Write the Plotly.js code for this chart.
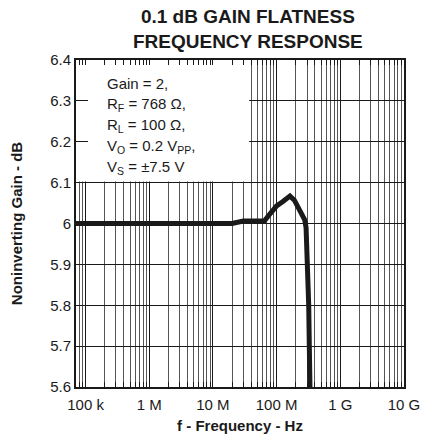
<!DOCTYPE html>
<html><head><meta charset="utf-8">
<script src="https://cdn.plot.ly/plotly-3.0.1.min.js"></script>
<style>html,body{margin:0;padding:0;background:#fff}#chart{width:425px;height:442px}</style>
</head><body><div id="chart"></div>
<script>
// Frequency (Hz) and noninverting gain (dB)
const freqHz = [7.0e4, 1.0e6, 2.0e7, 3.0e7, 6.5e7, 8.0e7, 1.0e8, 1.24e8, 1.62e8, 1.9e8, 2.22e8, 2.61e8, 2.76e8, 2.9e8, 3.06e8, 3.19e8, 3.26e8, 3.34e8];
const gainDb = [6.0, 6.0, 6.0, 6.006, 6.007, 6.025, 6.043, 6.053, 6.067, 6.057, 6.037, 6.02, 6.009, 5.99, 5.9, 5.8, 5.7, 5.6];

const xTickVals = [1e5, 1e6, 1e7, 1e8, 1e9, 1e10];
const xTickText = ['100 k', '1 M', '10 M', '100 M', '1 G', '10 G'];
const yTickVals = [5.6, 5.7, 5.8, 5.9, 6.0, 6.1, 6.2, 6.3, 6.4];
const yTickText = ['5.6', '5.7', '5.8', '5.9', '6', '6.1', '6.2', '6.3', '6.4'];
const conditionLines = [
  'Gain = 2,',
  'R<sub>F</sub> = 768 Ω,',
  'R<sub>L</sub> = 100 Ω,',
  'V<sub>O</sub> = 0.2 V<sub>PP</sub>,',
  'V<sub>S</sub> = ±7.5 V'
];
const chartTitle = '<b>0.1 dB GAIN FLATNESS<br>FREQUENCY RESPONSE</b>';
const xTitle = '<b>f - Frequency - Hz</b>';
const yTitle = '<b>Noninverting Gain - dB</b>';

// minor grid positions: digits 2..9 in each decade
const minorVals = [];
for (let e = 4; e <= 9; e++) for (let d = 2; d <= 9; d++) minorVals.push(d * Math.pow(10, e));

const FONT = 'Liberation Sans, Arial, Helvetica, sans-serif';
const INK = '#1a1a1a';
const X_RANGE = [4.85, 10];

const trace = {
  x: freqHz, y: gainDb, type: 'scatter', mode: 'lines',
  line: {color: INK, width: 5}, hoverinfo: 'skip', showlegend: false
};

const annotations = conditionLines.map((t, i) => ({
  text: t, xref: 'paper', yref: 'y', x: 0.087, y: 6.343 - i * 0.0514,
  xanchor: 'left', yanchor: 'middle', showarrow: false, align: 'left',
  font: {family: FONT, size: 15, color: INK}
}));

const layout = {
  width: 425, height: 442,
  margin: {l: 76, r: 21, t: 60, b: 55, pad: 0},
  paper_bgcolor: '#fff', plot_bgcolor: '#fff',
  font: {family: FONT, color: INK},
  title: {text: chartTitle, font: {family: FONT, size: 19, color: INK},
          x: 0.524, xref: 'paper', xanchor: 'center', y: 1, yref: 'paper', yanchor: 'bottom',
          pad: {b: 37}},
  xaxis: {
    type: 'log', range: X_RANGE, tickmode: 'array', tickvals: xTickVals, ticktext: xTickText,
    showgrid: true, gridcolor: INK, gridwidth: 1, zeroline: false,
    showline: true, linecolor: INK, linewidth: 2, mirror: 'allticks',
    ticks: 'inside', ticklen: 5, tickcolor: INK, tickwidth: 1,
    tickfont: {family: FONT, size: 15, color: INK}, ticklabelstandoff: 3,
    minor: {tickmode: 'array', tickvals: minorVals, showgrid: true, gridcolor: '#555', gridwidth: 1,
            ticks: 'inside', ticklen: 5, tickcolor: INK, tickwidth: 1},
    title: {text: xTitle, font: {family: FONT, size: 15, color: INK}, standoff: 8}
  },
  yaxis: {
    range: [5.6, 6.4], tickmode: 'array', tickvals: yTickVals, ticktext: yTickText,
    showgrid: true, gridcolor: INK, gridwidth: 1, zeroline: false,
    showline: true, linecolor: INK, linewidth: 2, mirror: 'allticks',
    ticks: 'inside', ticklen: 12, tickcolor: INK, tickwidth: 1,
    tickfont: {family: FONT, size: 15, color: INK},
    title: {text: yTitle, font: {family: FONT, size: 15, color: INK}, standoff: 24}
  },
  shapes: [{type: 'rect', xref: 'x', yref: 'y', x0: Math.pow(10, X_RANGE[0]), x1: 3.7e7, y0: 6.103, y1: 6.4,
            fillcolor: '#fff', line: {width: 0}, layer: 'between'}],
  annotations: annotations
};

Plotly.newPlot('chart', [trace], layout, {displayModeBar: false, staticPlot: true});
</script></body></html>
